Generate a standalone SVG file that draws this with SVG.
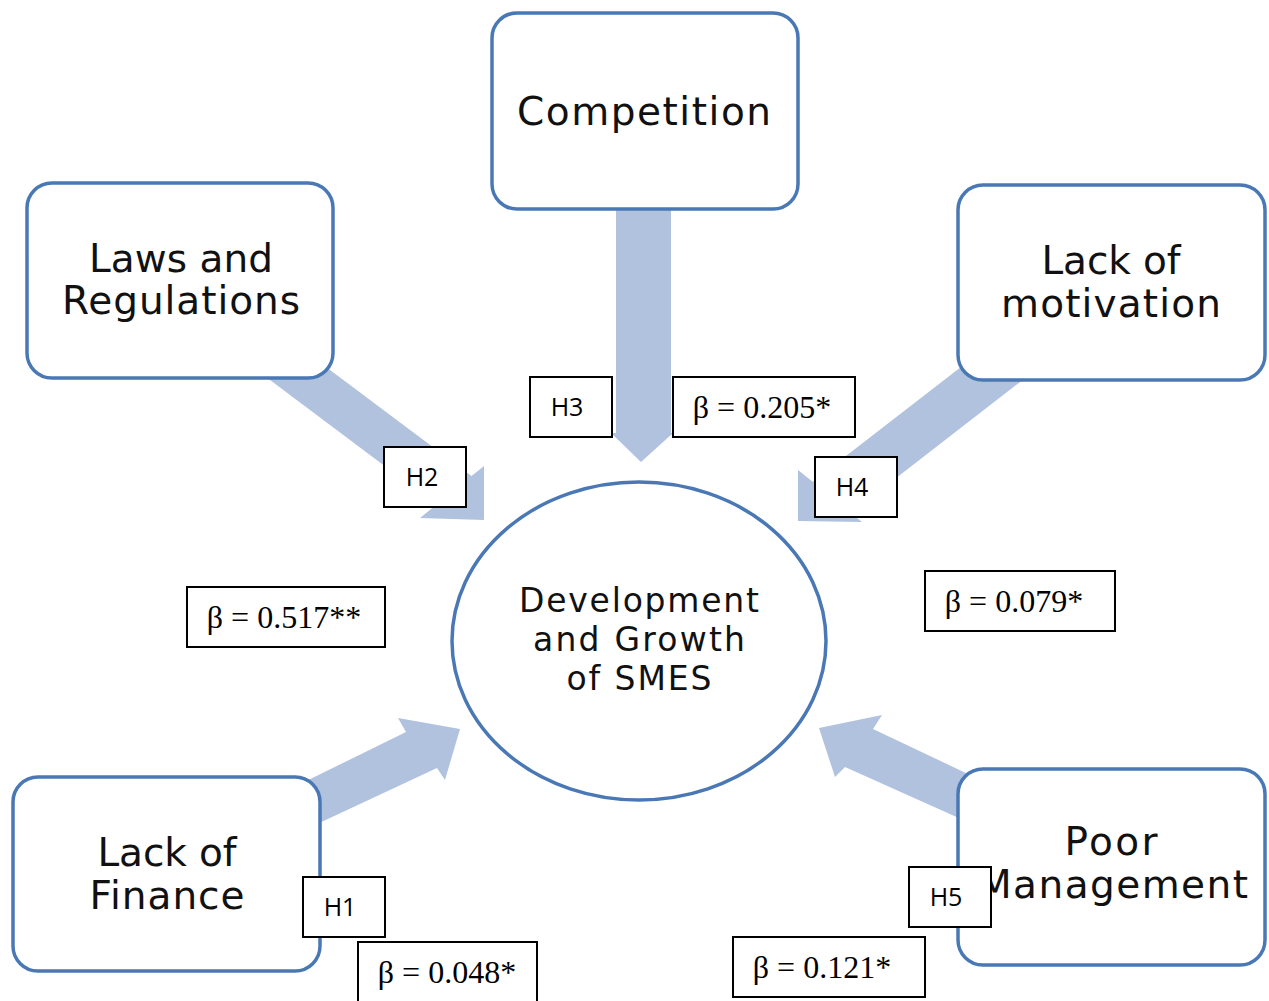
<svg xmlns="http://www.w3.org/2000/svg" width="1269" height="1001" viewBox="0 0 1269 1001">
  <style>
    .arrow { fill: #b1c2df; }
    .node rect, .node ellipse { fill: #ffffff; stroke: #4a78b5; stroke-width: 3.5; }
    .ntext { font-family: "DejaVu Sans", "Open Sans", sans-serif; font-size: 39px; fill: #111111; text-anchor: middle; }
    .ctext { font-family: "DejaVu Sans", "Open Sans", sans-serif; font-size: 33px; fill: #111111; text-anchor: middle; }
    .lbl rect { fill: #ffffff; stroke: #000000; stroke-width: 2; }
    .htext { font-family: "Open Sans", "Liberation Sans", sans-serif; font-size: 25px; fill: #000000; text-anchor: middle; }
    .btext { font-family: "Liberation Serif", "Times New Roman", serif; font-size: 32px; fill: #000000; text-anchor: middle; }
  </style>

  <!-- block arrows pointing at the central ellipse -->
  <g id="connectors">
    <polygon class="arrow" points="616,190 671,190 671,433 673,433 641,462 611,433 616,433"/>
    <polygon class="arrow" points="300,347.5 471.5,476 484,466 484,520 420,518 436.3,504.7 240,357.5"/>
    <polygon class="arrow" points="990,344.4 812.7,481.8 798,470 798,521 862,522 851,513 1050,358.8"/>
    <polygon class="arrow" points="290,789 406,732 398,718 460,729 445,780 437,768 300,832"/>
    <polygon class="arrow" points="990,784.4 873,729 882,715 819,728 835,777 845,767 990,832"/>
  </g>

  <g id="competition" class="node">
    <rect x="492" y="13" width="306" height="196" rx="25"/>
    <text class="ntext" x="644" y="125" textLength="254" lengthAdjust="spacing">Competition</text>
  </g>

  <g id="laws" class="node">
    <rect x="27" y="183" width="306" height="195" rx="25"/>
    <text class="ntext" x="181" y="272" textLength="184" lengthAdjust="spacing">Laws and</text>
    <text class="ntext" x="181" y="314" textLength="238" lengthAdjust="spacing">Regulations</text>
  </g>

  <g id="motivation" class="node">
    <rect x="958" y="185" width="307" height="195" rx="25"/>
    <text class="ntext" x="1111" y="274" textLength="139" lengthAdjust="spacing">Lack of</text>
    <text class="ntext" x="1111" y="317" textLength="220" lengthAdjust="spacing">motivation</text>
  </g>

  <g id="finance" class="node">
    <rect x="13" y="777" width="307" height="194" rx="25"/>
    <text class="ntext" x="167" y="866" textLength="139" lengthAdjust="spacing">Lack of</text>
    <text class="ntext" x="167" y="909" textLength="155" lengthAdjust="spacing">Finance</text>
  </g>

  <g id="management" class="node">
    <rect x="958" y="769" width="307" height="196" rx="25"/>
    <text class="ntext" x="1111" y="855" textLength="93" lengthAdjust="spacing">Poor</text>
    <text class="ntext" x="1113" y="898" textLength="270" lengthAdjust="spacing">Management</text>
  </g>

  <g id="smes" class="node">
    <ellipse cx="639" cy="641" rx="187" ry="159"/>
    <text class="ctext" x="639" y="612" textLength="240" lengthAdjust="spacing">Development</text>
    <text class="ctext" x="639" y="651" textLength="212" lengthAdjust="spacing">and Growth</text>
    <text class="ctext" x="639" y="690" textLength="145" lengthAdjust="spacing">of SMES</text>
  </g>

  <!-- hypothesis tags and coefficients -->
  <g id="h2" class="lbl"><rect x="384" y="447" width="82" height="60"/><text class="htext" x="422" y="486">H2</text></g>
  <g id="h3" class="lbl"><rect x="530" y="377" width="82" height="60"/><text class="htext" x="567" y="416">H3</text></g>
  <g id="h4" class="lbl"><rect x="815" y="457" width="82" height="60"/><text class="htext" x="852" y="496">H4</text></g>
  <g id="h1" class="lbl"><rect x="303" y="877" width="82" height="60"/><text class="htext" x="340" y="916">H1</text></g>
  <g id="h5" class="lbl"><rect x="909" y="867" width="82" height="60"/><text class="htext" x="946" y="906">H5</text></g>

  <g id="b3" class="lbl"><rect x="673" y="377" width="182" height="60"/><text class="btext" x="762" y="418">β = 0.205*</text></g>
  <g id="b2" class="lbl"><rect x="187" y="587" width="198" height="60"/><text class="btext" x="284" y="628">β = 0.517**</text></g>
  <g id="b4" class="lbl"><rect x="925" y="571" width="190" height="60"/><text class="btext" x="1014" y="612">β = 0.079*</text></g>
  <g id="b1" class="lbl"><rect x="358" y="942" width="179" height="70"/><text class="btext" x="447" y="983">β = 0.048*</text></g>
  <g id="b5" class="lbl"><rect x="733" y="937" width="192" height="60"/><text class="btext" x="822" y="978">β = 0.121*</text></g>
</svg>
